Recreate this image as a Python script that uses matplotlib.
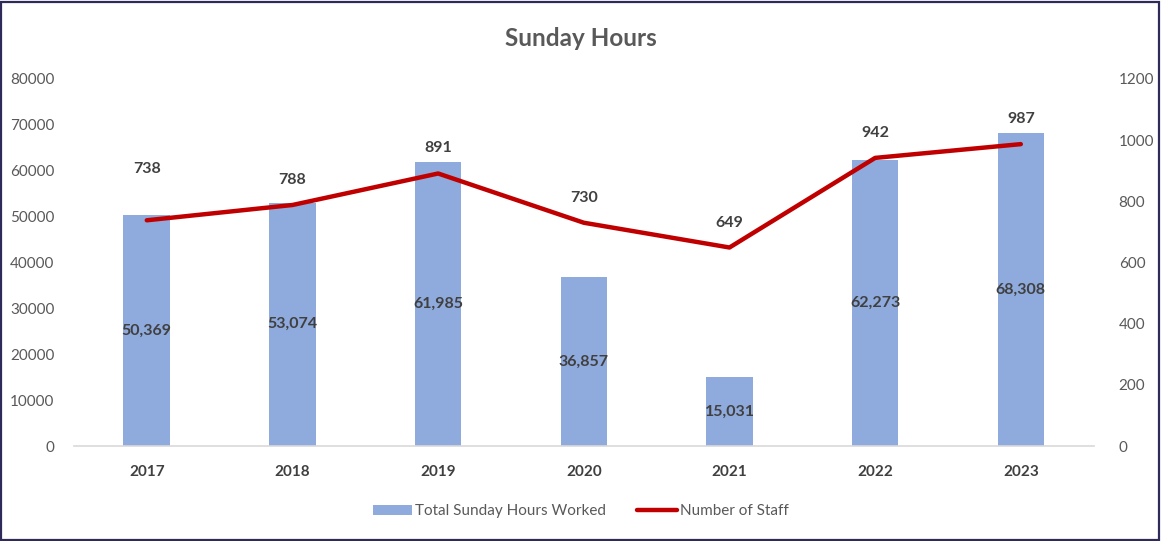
import matplotlib.pyplot as plt
from matplotlib.patches import Rectangle

plt.rcParams['font.family'] = ['Lato', 'DejaVu Sans']

# ── Data ──────────────────────────────────────────────────────────────────────
years = ['2017', '2018', '2019', '2020', '2021', '2022', '2023']
hours = [50369, 53074, 61985, 36857, 15031, 62273, 68308]
staff = [738, 788, 891, 730, 649, 942, 987]

BAR_COLOR = '#8FAADC'
LINE_COLOR = '#C00000'
TEXT_COLOR = '#404040'
TICK_COLOR = '#595959'

fig = plt.figure(figsize=(11.61, 5.41), dpi=100)
ax = fig.add_axes([0.0637, 0.1756, 0.8783, 0.6784])
ax2 = ax.twinx()

x = list(range(len(years)))
bars = ax.bar(x, hours, width=0.32, color=BAR_COLOR, label='Total Sunday Hours Worked', zorder=2)
line, = ax2.plot(x, staff, color=LINE_COLOR, linewidth=3.2, solid_capstyle='round',
                 label='Number of Staff', zorder=3)

ax.set_xlim(-0.5, len(years) - 0.5)
ax.set_ylim(0, 80000)
ax2.set_ylim(0, 1200)
ax.set_yticks(range(0, 80001, 10000))
ax2.set_yticks(range(0, 1201, 200))

ax.set_xticks(x)
ax.set_xticklabels(years, fontweight='bold', color=TEXT_COLOR, fontsize=11)
for a in (ax, ax2):
    for s in a.spines.values():
        s.set_visible(False)
    a.tick_params(axis='both', length=0, labelsize=11, labelcolor=TICK_COLOR)
ax.tick_params(axis='x', pad=14, labelcolor=TEXT_COLOR)
ax.tick_params(axis='y', pad=14)
ax2.tick_params(axis='y', pad=18)
ax.spines['bottom'].set_visible(True)
ax.spines['bottom'].set_color('#D9D9D9')
ax.spines['bottom'].set_linewidth(1.2)

# bar labels centred inside bars
for xi, h in zip(x, hours):
    ax.text(xi, h / 2, f'{h:,}', ha='center', va='center', fontsize=11.5,
            fontweight='bold', color=TEXT_COLOR, zorder=4)

# line labels above points (first one sits above the bar)
for xi, s in zip(x, staff):
    off = 37 if xi == 0 else 18
    ax2.annotate(f'{s}', (xi, s), xytext=(0, off), textcoords='offset points',
                 ha='center', va='center', fontsize=11.5, fontweight='bold', color=TEXT_COLOR)

fig.text(0.5, 0.929, 'Sunday Hours', ha='center', va='center', fontsize=17.5,
         fontweight='bold', color=TICK_COLOR)

fig.legend(handles=[bars, line], loc='center', bbox_to_anchor=(0.5, 0.055), ncol=2,
           frameon=False, fontsize=11, labelcolor=TICK_COLOR, handlelength=2.6,
           handleheight=0.7, columnspacing=2.0, handletextpad=0.2)

fig.add_artist(Rectangle((0.001, 0.002), 0.997, 0.995, transform=fig.transFigure,
                         fill=False, edgecolor='#2E2A5A', linewidth=1.6))

fig.savefig('out.png', dpi=100, facecolor='white')
